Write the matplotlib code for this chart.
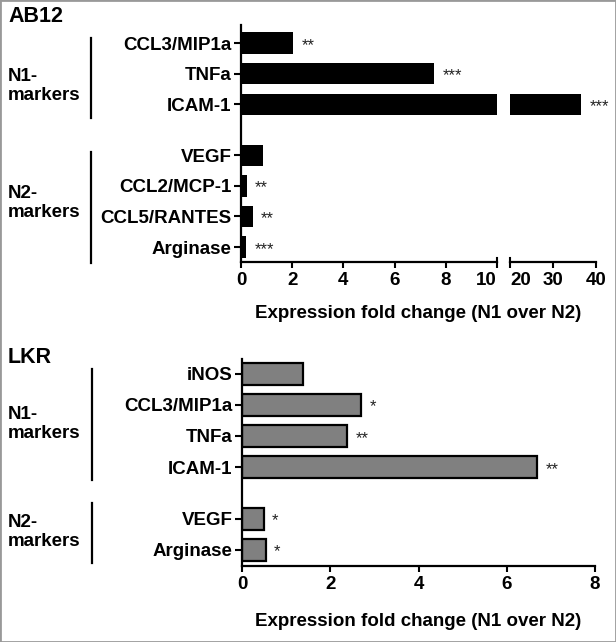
import matplotlib
matplotlib.use('Agg')
import matplotlib.pyplot as plt
from matplotlib.patches import Rectangle
from matplotlib.transforms import blended_transform_factory

plt.rcParams['font.family'] = ['Liberation Sans', 'DejaVu Sans']

# AB12 panel
ab12_genes = ['CCL3/MIP1a', 'TNFa', 'ICAM-1', 'VEGF', 'CCL2/MCP-1', 'CCL5/RANTES', 'Arginase']
ab12_fold = [2.03, 7.55, 36.5, 0.85, 0.23, 0.45, 0.2]
ab12_sig = ['**', '***', '***', '', '**', '**', '***']
ab12_groups = [3, 4]

# LKR panel
lkr_genes = ['iNOS', 'CCL3/MIP1a', 'TNFa', 'ICAM-1', 'VEGF', 'Arginase']
lkr_fold = [1.38, 2.7, 2.38, 6.69, 0.49, 0.54]
lkr_sig = ['', '*', '**', '**', '*', '*']
lkr_groups = [4, 2]

group_names = ['N1-\nmarkers', 'N2-\nmarkers']
xlabel = 'Expression fold change (N1 over N2)'

W, H = 616, 642
LBL = 13.5


def rect(l, t, r, b):
    return [l / W, 1 - b / H, (r - l) / W, (b - t) / H]


def positions(groups, gap=0.67):
    pos, y = [], 0.0
    for g in groups:
        for _ in range(g):
            pos.append(y)
            y += 1
        y += gap
    return pos


def style(ax, left=True):
    for s in ['top', 'right']:
        ax.spines[s].set_visible(False)
    ax.spines['bottom'].set_linewidth(1.6)
    ax.spines['left'].set_linewidth(1.6)
    ax.tick_params(axis='x', length=4, width=1.5, pad=3, labelsize=LBL)
    ax.tick_params(axis='y', length=5, width=1.5, pad=2, labelsize=LBL)
    for t in ax.get_xticklabels() + ax.get_yticklabels():
        t.set_fontweight('bold')
    if not left:
        ax.spines['left'].set_visible(False)
        ax.tick_params(axis='y', left=False, labelleft=False)


def stars(ax, v, y, s):
    if s:
        ax.annotate(s, (v, y), xytext=(6, -4.8), textcoords='offset points',
                    ha='left', va='baseline', fontsize=12, color='#222222')


def brackets(ax, pos, groups, spans, shifts, xfrac, text_x):
    tr = blended_transform_factory(ax.transAxes, ax.transData)
    i = 0
    for g, name, (a, b), sh in zip(groups, group_names, spans, shifts):
        first, last = pos[i], pos[i + g - 1]
        ax.plot([xfrac, xfrac], [first + a, last + b], color='black', lw=1.6,
                transform=tr, clip_on=False)
        ax.text(text_x, (first + last) / 2 + sh, name, transform=tr, ha='left', va='center',
                fontsize=LBL, fontweight='bold', linespacing=1.2)
        i += g


fig = plt.figure(figsize=(W / 100, H / 100), dpi=100)

# ---- AB12 (broken axis) ----
pos1 = positions(ab12_groups)
ax1 = fig.add_axes(rect(241, 25, 497, 262))
ax1b = fig.add_axes(rect(510, 25, 596, 262), sharey=ax1)
for ax in (ax1, ax1b):
    ax.barh(pos1, ab12_fold, height=0.7, color='black')
ax1.set_xlim(0, 10)
ax1b.set_xlim(20, 40)
ax1.set_ylim(pos1[-1] + 0.49, -0.59)
ax1.set_xticks([0, 2, 4, 6, 8, 10])
ax1b.set_xticks([20, 30, 40])
ax1.set_yticks(pos1)
ax1.set_yticklabels(ab12_genes)
style(ax1)
style(ax1b, left=False)
ax1.get_xticklabels()[-1].set_horizontalalignment('right')
ax1b.get_xticklabels()[0].set_horizontalalignment('left')
# break caps
for ax, xf in ((ax1, 1.0), (ax1b, 0.0)):
    ax.plot([xf, xf], [0, 0.018], color='black', lw=1.5,
            transform=ax.transAxes, clip_on=False)
for v, y, s in zip(ab12_fold, pos1, ab12_sig):
    stars(ax1b if v > 10 else ax1, v, y, s)
brackets(ax1, pos1, ab12_groups, [(-0.15, 0.45), (-0.1, 0.52)], [0.4, 0.06],
         (91 - 241) / 256, (8 - 241) / 256)
fig.text(8 / W, 1 - 17 / H, 'AB12', fontsize=15.5, fontweight='bold', ha='left', va='center')
fig.text(418 / W, 1 - 313 / H, xlabel, fontsize=LBL, fontweight='bold', ha='center', va='center')

# ---- LKR ----
pos2 = positions(lkr_groups)
ax2 = fig.add_axes(rect(242, 359, 595, 566))
ax2.barh(pos2, lkr_fold, height=0.7, color='#808080', edgecolor='black', linewidth=1.6)
ax2.set_xlim(0, 8)
ax2.set_ylim(pos2[-1] + 0.52, -0.48)
ax2.set_xticks([0, 2, 4, 6, 8])
ax2.set_yticks(pos2)
ax2.set_yticklabels(lkr_genes)
style(ax2)
for v, y, s in zip(lkr_fold, pos2, lkr_sig):
    stars(ax2, v, y, s)
brackets(ax2, pos2, lkr_groups, [(-0.15, 0.42), (-0.5, 0.42)], [0.12, -0.07],
         (92 - 242) / 353, (8 - 242) / 353)
fig.text(8 / W, 1 - 358 / H, 'LKR', fontsize=15.5, fontweight='bold', ha='left', va='center')
fig.text(418 / W, 1 - 622 / H, xlabel, fontsize=LBL, fontweight='bold', ha='center', va='center')

fig.add_artist(Rectangle((0, 0), 1, 1, transform=fig.transFigure, fill=False,
                         edgecolor='#999999', lw=2))

fig.savefig('out.png', dpi=100)
